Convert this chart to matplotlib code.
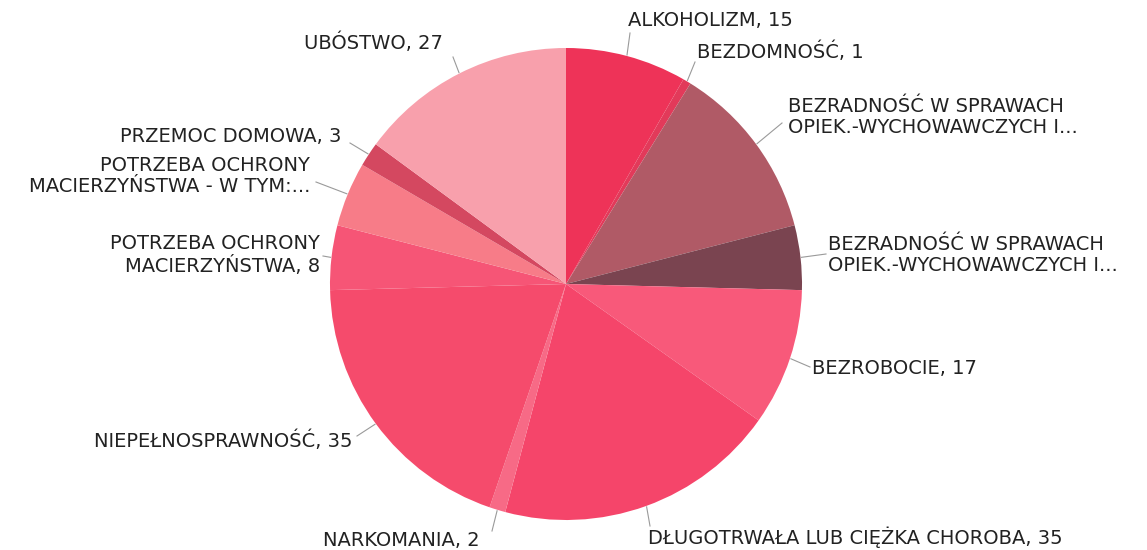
import matplotlib
matplotlib.use("Agg")
import matplotlib.pyplot as plt
import numpy as np

labels = [
    "ALKOHOLIZM, 15",
    "BEZDOMNOŚĆ, 1",
    "BEZRADNOŚĆ W SPRAWACH\nOPIEK.-WYCHOWAWCZYCH I...",
    "BEZRADNOŚĆ W SPRAWACH\nOPIEK.-WYCHOWAWCZYCH I...",
    "BEZROBOCIE, 17",
    "DŁUGOTRWAŁA LUB CIĘŻKA CHOROBA, 35",
    "NARKOMANIA, 2",
    "NIEPEŁNOSPRAWNOŚĆ, 35",
    "POTRZEBA OCHRONY\nMACIERZYŃSTWA, 8",
    "POTRZEBA OCHRONY\nMACIERZYŃSTWA - W TYM:...",
    "PRZEMOC DOMOWA, 3",
    "UBÓSTWO, 27",
]
values = [15, 1, 22, 8, 17, 35, 2, 35, 8, 8, 3, 27]
colors = ["#EE3358", "#E23A5A", "#B05A66", "#7A4450", "#F8597A", "#F5456A",
          "#F76A86", "#F54B6C", "#F65576", "#F77C88", "#D44860", "#F8A0AC"]

# layout (pixel positions, y measured from top)
W, H = 1147, 550
cx, cy, R = 566, 284, 236
text_pos = [(628, 21), (697, 52), (788, 117), (828, 255), (812, 369), (648, 537),
            (480, 540), (352, 441), (320, 255), (310, 176), (341, 137), (443, 43)]
line_end = [(630, 33), (695, 62), (782, 123), (826, 254), (810, 367), (650, 526),
            (492, 531), (357, 436), (323, 256), (316, 182), (350, 143), (453, 57)]
ha = ["left", "left", "left", "left", "left", "left",
      "right", "right", "right", "right", "right", "right"]

fig = plt.figure(figsize=(W / 100, H / 100), dpi=100)
ax = fig.add_axes([0, 0, 1, 1])

wedges, _ = ax.pie(values, colors=colors, startangle=90, counterclock=False,
                   center=(cx, H - cy), radius=R,
                   wedgeprops=dict(linewidth=0), frame=True)
ax.set_xlim(0, W)
ax.set_ylim(0, H)
ax.set_aspect("equal")
ax.axis("off")

for w, lab, (tx, ty), (lx, ly), a in zip(wedges, labels, text_pos, line_end, ha):
    mid = np.deg2rad((w.theta1 + w.theta2) / 2)
    ex = cx + (R + 1) * np.cos(mid)
    ey = (H - cy) + (R + 1) * np.sin(mid)
    ax.plot([ex, lx], [ey, H - ly], color="#9a9a9a", lw=0.8)
    ax.text(tx, H - ty, lab, ha=a, va="center", multialignment=a,
            fontsize=14, family="DejaVu Sans", color="#222222", linespacing=1.15)

fig.savefig("out.png", dpi=100)
